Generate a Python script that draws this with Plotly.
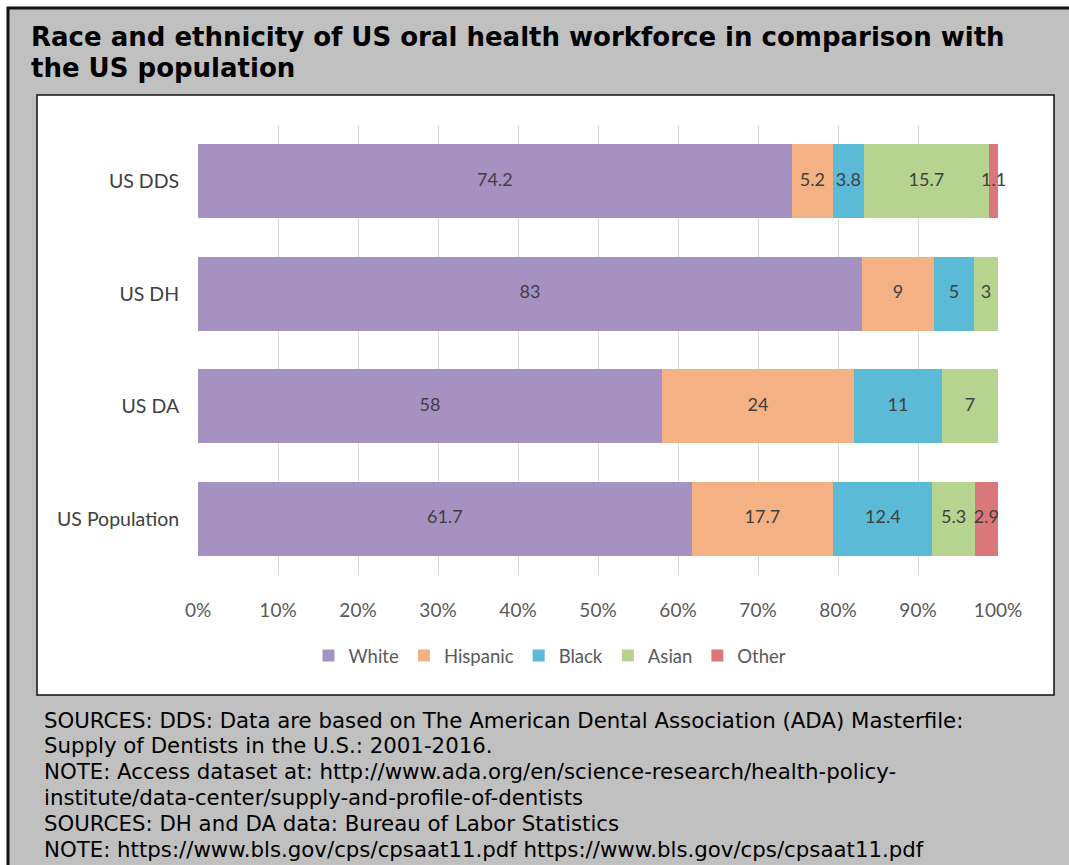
import plotly.graph_objects as go

categories = ["US DDS", "US DH", "US DA", "US Population"]
series_names = ["White", "Hispanic", "Black", "Asian", "Other"]
white = [74.2, 83, 58, 61.7]
hispanic = [5.2, 9, 24, 17.7]
black = [3.8, 5, 11, 12.4]
asian = [15.7, 3, 7, 5.3]
other = [1.1, 0, 0, 2.9]
tick_vals = [0, 10, 20, 30, 40, 50, 60, 70, 80, 90, 100]
tick_text = ["0%", "10%", "20%", "30%", "40%", "50%", "60%", "70%", "80%", "90%", "100%"]

title_lines = ["Race and ethnicity of US oral health workforce in comparison with",
               "the US population"]
footer_lines = [
    "SOURCES: DDS: Data are based on The American Dental Association (ADA) Masterfile:",
    "Supply of Dentists in the U.S.: 2001-2016.",
    "NOTE: Access dataset at: http://www.ada.org/en/science-research/health-policy-",
    "institute/data-center/supply-and-profile-of-dentists",
    "SOURCES: DH and DA data: Bureau of Labor Statistics",
    "NOTE: https://www.bls.gov/cps/cpsaat11.pdf https://www.bls.gov/cps/cpsaat11.pdf",
]

colors = ["#A692C0", "#F4B183", "#5BBAD5", "#B6D48F", "#D9777A"]
values = [white, hispanic, black, asian, other]

W, H = 1069, 865
L, R, T, B = 198, 998, 125, 575


def px_x(px):
    return (px - L) / (R - L)


def px_y(py):
    return 1 - (py - T) / (B - T)


chart_font = "Lato, Open Sans, sans-serif"
text_font = "DejaVu Sans, sans-serif"

fig = go.Figure()
for name, vals, col in zip(series_names, values, colors):
    fig.add_trace(go.Bar(
        y=categories, x=vals, name=name, orientation="h",
        marker=dict(color=col, line=dict(width=0)),
        hoverinfo="skip",
    ))

# data labels centred on each segment (positions derived from the data)
cum = [0.0] * len(categories)
for vals in values:
    xs, ys, ts = [], [], []
    for i, v in enumerate(vals):
        if v > 0:
            xs.append(cum[i] + v / 2)
            ys.append(categories[i])
            ts.append("%g" % v)
        cum[i] += v
    fig.add_trace(go.Scatter(
        x=xs, y=ys, text=ts, mode="text", showlegend=False,
        textposition="middle center", cliponaxis=False, hoverinfo="skip",
        textfont=dict(family=chart_font, size=18, color="#404040"),
    ))

shapes = [
    dict(type="rect", xref="paper", yref="paper", layer="below",
         x0=px_x(8), x1=px_x(1080), y0=px_y(880), y1=px_y(8),
         fillcolor="#C0C0C0", line=dict(color="#111111", width=3)),
    dict(type="rect", xref="paper", yref="paper", layer="below",
         x0=px_x(37), x1=px_x(1054), y0=px_y(695), y1=px_y(95),
         fillcolor="#FFFFFF", line=dict(color="#111111", width=1.5)),
]

annotations = []
for i, line in enumerate(title_lines):
    annotations.append(dict(
        text="<b>%s</b>" % line, xref="paper", yref="paper",
        x=px_x(29), y=px_y([37, 68][i]), xanchor="left", yanchor="middle",
        showarrow=False, font=dict(family=text_font, size=26, color="#000000")))
for i, line in enumerate(footer_lines):
    annotations.append(dict(
        text=line, xref="paper", yref="paper",
        x=px_x(42), y=px_y([720, 745, 771, 797, 823, 849][i]),
        xanchor="left", yanchor="middle", showarrow=False,
        font=dict(family=text_font, size=21.3, color="#000000")))

fig.update_layout(
    width=W, height=H,
    margin=dict(l=L, r=W - R, t=T, b=H - B, pad=0),
    paper_bgcolor="#FFFFFF", plot_bgcolor="rgba(0,0,0,0)",
    barmode="stack", bargap=0.34,
    showlegend=True,
    legend=dict(orientation="h", x=px_x(550), xanchor="center",
                y=px_y(656), yanchor="middle",
                font=dict(family=chart_font, size=18.5, color="#595959"),
                itemwidth=30, traceorder="normal", bgcolor="rgba(0,0,0,0)"),
    shapes=shapes, annotations=annotations,
    xaxis=dict(range=[0, 100], tickvals=tick_vals, ticktext=tick_text,
               showgrid=True, gridcolor="#D9D9D9", gridwidth=1,
               zeroline=False, showline=False,
               ticks="outside", ticklen=18, tickcolor="rgba(0,0,0,0)",
               tickfont=dict(family=chart_font, size=19, color="#595959"),
               fixedrange=True),
    yaxis=dict(categoryorder="array", categoryarray=categories,
               autorange="reversed", showgrid=False, zeroline=False,
               showline=False, ticks="outside", ticklen=14,
               tickcolor="rgba(0,0,0,0)",
               tickfont=dict(family=chart_font, size=19.5, color="#404040"),
               fixedrange=True),
)

fig.write_html("out.html")
